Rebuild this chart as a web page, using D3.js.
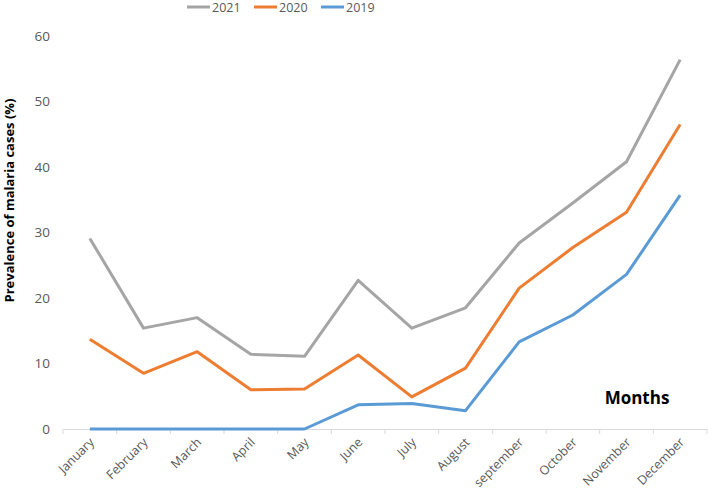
<!DOCTYPE html>
<html>
<head>
<meta charset="utf-8">
<script src="https://cdn.jsdelivr.net/npm/d3@7"></script>
<style>
  body { margin: 0; background: #fff; }
  svg { display: block; font-family: "Open Sans", "Noto Sans", sans-serif; }
</style>
</head>
<body>
<div id="graph"></div>
<script>
const months = ["January", "February", "March", "April", "May", "June", "July",
  "August", "september", "October", "November", "December"];
const years = ["2021", "2020", "2019"];
const y2021 = [29.1, 15.4, 17.0, 11.4, 11.1, 22.7, 15.4, 18.5, 28.4, 34.5, 40.8, 56.4];
const y2020 = [13.7, 8.5, 11.8, 6.0, 6.1, 11.3, 4.9, 9.3, 21.5, 27.7, 33.1, 46.5];
const y2019 = [0, 0, 0, 0, 0, 3.7, 3.9, 2.8, 13.3, 17.4, 23.6, 35.7];
const yTicks = [0, 10, 20, 30, 40, 50, 60];

const width = 708;
const height = 493;
const margin = { left: 63, right: 1, top: 36, bottom: 64 };

const gray = "#A5A5A5";
const orange = "#ED7D31";
const blue = "#5B9BD5";
const textGray = "#595959";
const colors = [gray, orange, blue];
const series = [y2021, y2020, y2019];

let svg = d3.select('#graph')
  .append('svg')
  .attr('width', width)
  .attr('height', height);

let xScale = d3.scaleBand()
  .domain(months)
  .range([margin.left, width - margin.right]);

let yScale = d3.scaleLinear()
  .domain([0, 60])
  .range([height - margin.bottom, margin.top]);

// y axis (labels only)
let yAxis = svg.append('g')
  .attr('transform', `translate(${margin.left}, 0)`)
  .call(d3.axisLeft(yScale).tickValues(yTicks).tickSize(0).tickPadding(13));
yAxis.select('.domain').remove();
yAxis.selectAll('text')
  .style('fill', textGray)
  .style('font-size', '13.5px')
  .style('font-family', '"Open Sans", sans-serif');

// x axis
let xAxis = svg.append('g')
  .attr('transform', `translate(0, ${yScale(0)})`)
  .call(d3.axisBottom(xScale).tickSize(0).tickPadding(0));
xAxis.select('.domain')
  .attr('stroke', '#D9D9D9')
  .attr('stroke-width', 1);
xAxis.selectAll('.tick line').remove();
// tick marks at band boundaries
let bounds = months.map(m => xScale(m)).concat([width - margin.right]);
xAxis.selectAll('.bound').data(bounds).enter()
  .append('line')
  .attr('class', 'bound')
  .attr('x1', d => d).attr('x2', d => d)
  .attr('y1', 0).attr('y2', 5)
  .attr('stroke', '#D9D9D9');
xAxis.selectAll('.tick text')
  .attr('text-anchor', 'end')
  .attr('dy', null)
  .attr('y', 0)
  .attr('transform', 'translate(5, 14) rotate(-45)')
  .style('fill', textGray)
  .style('font-size', '12.5px')
  .style('font-family', '"Open Sans", sans-serif');

// y axis title
svg.append('text')
  .attr('transform', `translate(14, ${(yScale(0) + yScale(60)) / 2 - 32}) rotate(-90)`)
  .attr('text-anchor', 'middle')
  .style('font-size', '13px')
  .style('font-weight', 'bold')
  .style('fill', '#000')
  .text('Prevalence of malaria cases (%)');

// "Months" label
svg.append('text')
  .attr('x', 637)
  .attr('y', 404)
  .attr('text-anchor', 'middle')
  .style('font-size', '17px')
  .style('font-weight', 'bold')
  .style('fill', '#000')
  .text('Months');

// lines
let line = d3.line()
  .x((d, i) => xScale(months[i]) + xScale.bandwidth() / 2)
  .y(d => yScale(d));

series.forEach((s, k) => {
  svg.append('path')
    .datum(s)
    .attr('fill', 'none')
    .attr('stroke', colors[k])
    .attr('stroke-width', 3)
    .attr('stroke-linejoin', 'round')
    .attr('d', line);
});

// legend
let legend = svg.append('g').attr('class', 'legend');
let legendX = [187, 254, 321];
years.forEach((y, i) => {
  legend.append('line')
    .attr('x1', legendX[i]).attr('x2', legendX[i] + 23)
    .attr('y1', 7).attr('y2', 7)
    .attr('stroke', colors[i])
    .attr('stroke-width', 3);
  legend.append('text')
    .attr('x', legendX[i] + 25)
    .attr('y', 11.5)
    .style('font-size', '12.5px')
    .style('fill', textGray)
    .text(y);
});
</script>
</body>
</html>
